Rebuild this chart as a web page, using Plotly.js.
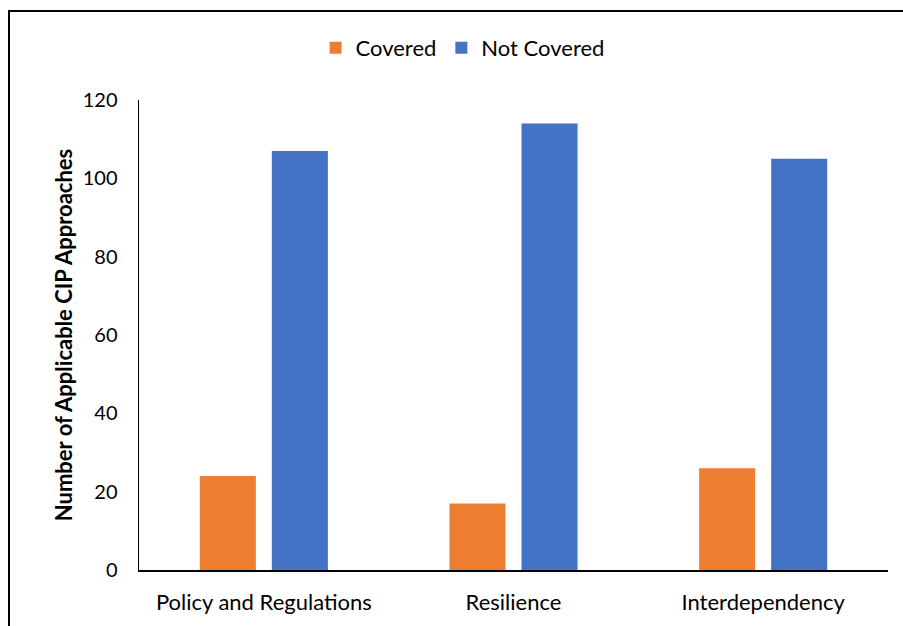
<!DOCTYPE html>
<html>
<head>
<meta charset="utf-8">
<script src="https://cdn.plot.ly/plotly-3.0.1.min.js"></script>
<style>
  html, body { margin: 0; padding: 0; background: #fff; overflow: hidden; }
  #frame { position: absolute; left: 8px; top: 10px; width: 1000px; height: 1000px;
           border-left: 2px solid #000; border-top: 2px solid #000; }
  #chart { position: absolute; left: 0; top: 0; width: 903px; height: 626px; }
</style>
</head>
<body>
<div id="frame"></div>
<div id="chart"></div>
<script>
// Coverage of CIP approaches per topic
const categories = ["Policy and Regulations", "Resilience", "Interdependency"];
const covered = [24, 17, 26];
const notCovered = [107, 114, 105];
const yTicks = [0, 20, 40, 60, 80, 100, 120];

const FONT = "Lato, 'Open Sans', sans-serif";

const traces = [
  { type: "bar", name: "Covered", x: categories, y: covered,
    marker: { color: "#ED7D31" }, hoverinfo: "x+y" },
  { type: "bar", name: "Not Covered", x: categories, y: notCovered,
    marker: { color: "#4472C4" }, hoverinfo: "x+y" }
];

const layout = {
  width: 903, height: 626,
  margin: { l: 139, r: 15, t: 100, b: 56 },
  paper_bgcolor: "rgba(0,0,0,0)",
  plot_bgcolor: "rgba(0,0,0,0)",
  font: { family: FONT, size: 22, color: "#000" },
  barmode: "group",
  bargap: 0.423,
  bargroupgap: 0.222,
  showlegend: true,
  legend: {
    orientation: "h", x: 0.432, xanchor: "center", y: 1.111, yanchor: "middle",
    font: { family: FONT, size: 22, color: "#000" }, traceorder: "normal",
    itemwidth: 30
  },
  xaxis: {
    type: "category", showline: true, linecolor: "#000", linewidth: 1.5,
    ticks: "outside", ticklen: 12, tickcolor: "rgba(0,0,0,0)",
    showgrid: false, zeroline: false
  },
  yaxis: {
    range: [0, 120], tickvals: yTicks, showline: true, linecolor: "#000", linewidth: 1.5,
    ticks: "outside", ticklen: 16, tickcolor: "rgba(0,0,0,0)",
    tickfont: { family: FONT, size: 20, color: "#000" },
    showgrid: false, zeroline: false,
    title: { text: "<b>Number of Applicable CIP Approaches</b>", standoff: 4,
             font: { family: FONT, size: 22, color: "#000" } }
  }
};

Plotly.newPlot("chart", traces, layout, { displayModeBar: false, staticPlot: true });
</script>
</body>
</html>
